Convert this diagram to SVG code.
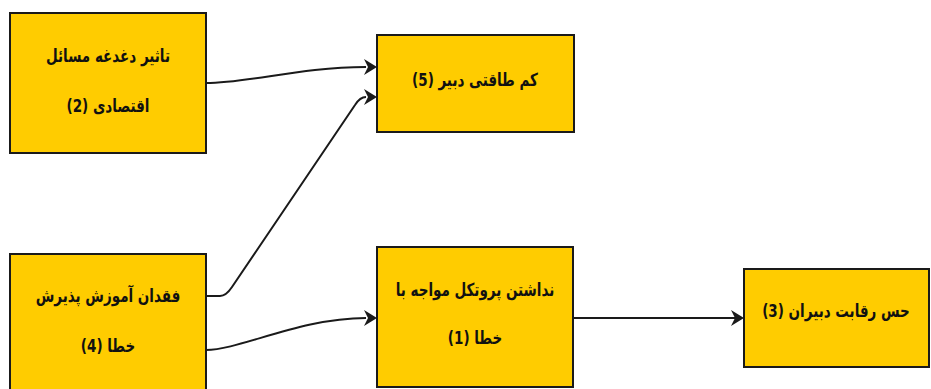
<svg xmlns="http://www.w3.org/2000/svg" width="931" height="389" viewBox="0 0 931 389">
<defs>
<style>
.box{fill:#FFCC00;stroke:#1a1a1a;stroke-width:2}
.t{font-family:"DejaVu Sans","Noto Sans",sans-serif;font-size:18px;font-weight:bold;fill:#111;text-anchor:middle;direction:rtl}
.c{fill:none;stroke:#1a1a1a;stroke-width:2}
.ah{fill:#1a1a1a}
</style>
</defs>
<rect width="931" height="389" fill="#fff"/>
<g id="connectors">
<path class="c" d="M206,83 C250,83 300,67 366,67"/>
<path class="ah" d="M364,59 L377,67 L364,75 L368,67 Z"/>
<path class="c" d="M206,296 L220,296 Q226,296 232,287 L355,105 Q360,97 366,97"/>
<path class="ah" d="M364,89 L377,97 L364,105 L368,97 Z"/>
<path class="c" d="M206,350 C240,350 300,318 366,318"/>
<path class="ah" d="M364,310 L377,318 L364,326 L368,318 Z"/>
<path class="c" d="M573,318 L735,318"/>
<path class="ah" d="M731,310 L744,318 L731,326 L735,318 Z"/>
</g>
<g id="node2">
<rect class="box" x="10" y="13" width="196" height="140"/>
<text class="t" x="108" y="62" transform="translate(108 0) scale(0.75 1) translate(-108 0)">تاثیر دغدغه مسائل</text>
<text class="t" x="108" y="112" transform="translate(108 0) scale(0.75 1) translate(-108 0)">اقتصادی (2)</text>
</g>
<g id="node5">
<rect class="box" x="377" y="35" width="197" height="97"/>
<text class="t" x="475" y="86" transform="translate(475 0) scale(0.75 1) translate(-475 0)">کم طاقتی دبیر (5)</text>
</g>
<g id="node4">
<rect class="box" x="10" y="254" width="196" height="140"/>
<text class="t" x="108" y="302" transform="translate(108 0) scale(0.75 1) translate(-108 0)">فقدان آموزش پذیرش</text>
<text class="t" x="108" y="352" transform="translate(108 0) scale(0.75 1) translate(-108 0)">خطا (4)</text>
</g>
<g id="node1">
<rect class="box" x="377" y="247" width="196" height="140"/>
<text class="t" x="475" y="296" transform="translate(475 0) scale(0.75 1) translate(-475 0)">نداشتن پروتکل مواجه با</text>
<text class="t" x="475" y="344" transform="translate(475 0) scale(0.75 1) translate(-475 0)">خطا (1)</text>
</g>
<g id="node3">
<rect class="box" x="744" y="269" width="185" height="98"/>
<text class="t" x="836" y="317" transform="translate(836 0) scale(0.75 1) translate(-836 0)">حس رقابت دبیران (3)</text>
</g>
</svg>
